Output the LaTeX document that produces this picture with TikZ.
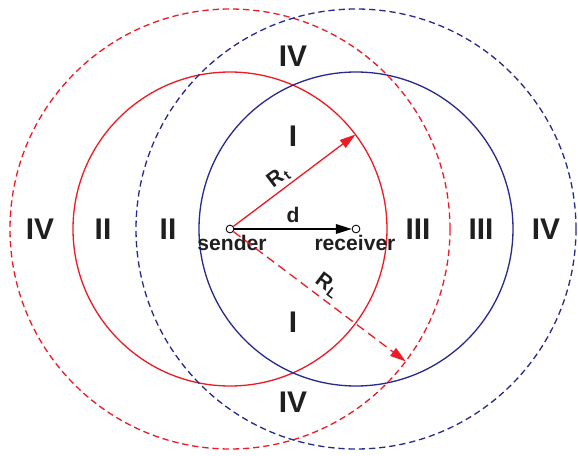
\documentclass[tikz,border=0pt]{standalone}
\usepackage{fontspec}
\setmainfont{Liberation Sans}
\usetikzlibrary{arrows.meta}
\definecolor{rangered}{RGB}{237,28,36}
\definecolor{rangeblue}{RGB}{40,42,140}

\begin{document}
\begin{tikzpicture}[font=\bfseries,line join=round,x=1cm,y=1cm,
  region/.style={font=\fontsize{17}{20}\selectfont\bfseries,text=black!88,inner sep=0pt},
  tag/.style={font=\fontsize{12}{14}\selectfont\bfseries,text=black!88,inner sep=0pt},
  station/.style={circle,draw=black,fill=white,inner sep=0pt,minimum size=4.4pt,line width=0.5pt},
  txrange/.style={line width=0.75pt},
  lrange/.style={line width=0.75pt,dash pattern=on 3.6pt off 2.2pt},
  tip/.style={-{Triangle[length=9pt,width=5.5pt]}}]
\useasboundingbox (-4.6,-4.54) rectangle (6.96,4.58);
\coordinate (s) at (0,0);
\coordinate (r) at (2.52,0);
% transmission and interference ranges
\draw[txrange,rangered] (s) circle (3.14);
\draw[txrange,rangeblue] (r) circle (3.14);
\draw[lrange,rangered] (s) circle (4.4);
\draw[lrange,rangeblue] (r) circle (4.4);
% regions
\node[region] (ia) at (1.26,1.86) {I};
\node[region] (ib) at (1.26,-1.86) {I};
\node[region] (iia) at (-1.24,0) {II};
\node[region] (iib) at (-2.54,0) {II};
\node[region] (iiia) at (3.76,0) {III};
\node[region] (iiib) at (5.02,0) {III};
\node[region] (iva) at (1.26,3.46) {IV};
\node[region] (ivb) at (1.26,-3.46) {IV};
\node[region] (ivc) at (-3.8,0) {IV};
\node[region] (ivd) at (6.32,0) {IV};
% stations
\node[station] (sender) at (s) {};
\node[station] (receiver) at (r) {};
\node[tag] (sendertext) at (0.04,-0.27) {sender};
\node[tag] (receivertext) at (2.5,-0.27) {receiver};
\coordinate (rtend) at (37:3.14);
\coordinate (rlend) at (-37:4.4);
\draw[tip,line width=0.75pt,black] (sender) -- node[tag,above=3pt] (dtext) {d} (receiver);
\draw[tip,txrange,rangered] (sender) -- node[tag,pos=0.43,sloped,above=1.5pt] (rttext) {R\kern0.6pt\textsubscript{t}} (rtend);
\draw[tip,line width=0.75pt,rangered,dash pattern=on 5pt off 3pt] (sender) -- node[tag,pos=0.5,sloped,above=2.5pt] (rltext) {R\kern0.6pt\textsubscript{L}} (rlend);
\end{tikzpicture}
\end{document}
